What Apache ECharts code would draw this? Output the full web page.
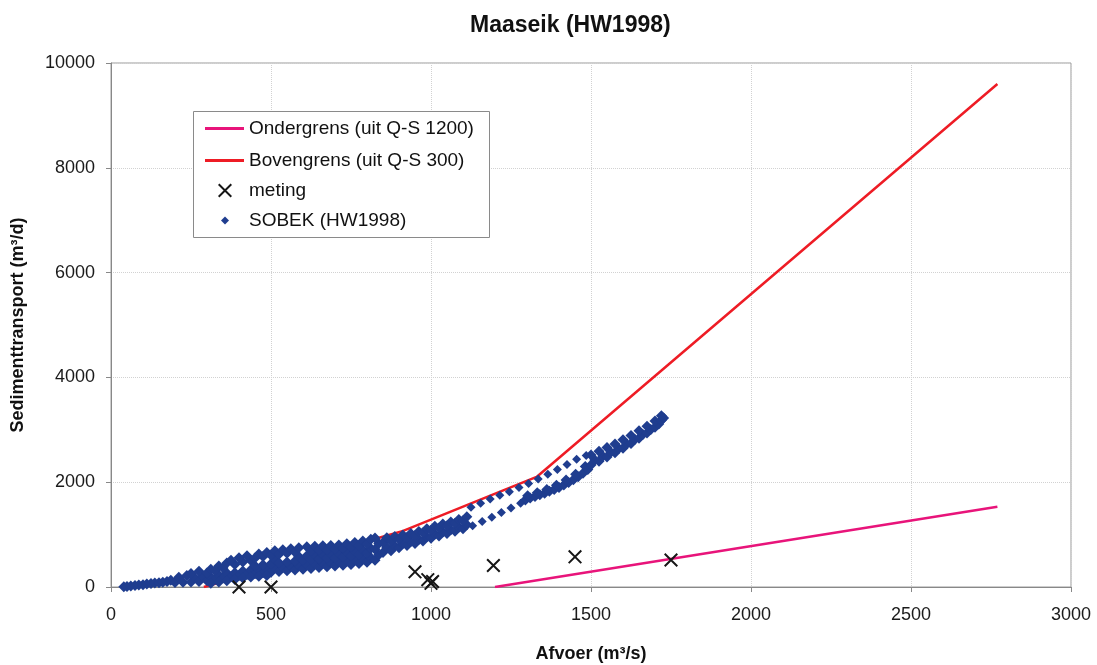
<!DOCTYPE html>
<html>
<head>
    <meta charset="utf-8"/>
    <script src="https://cdn.jsdelivr.net/npm/echarts@6/dist/echarts.min.js"></script>
    <style>
        html, body { margin: 0; padding: 0; background: #fff; }
        #container { width: 1097px; height: 665px; }
    </style>
</head>
<body>
<div id="container"></div>
<script type="text/javascript">
    // grenslijnen (afvoer m3/s, sedimenttransport m3/d)
    var ondergrensQ = [1200, 2770];
    var ondergrensS = [0, 1530];
    var bovengrensQ = [290, 913, 1330, 2770];
    var bovengrensS = [0, 1070, 2100, 9600];

    // metingen
    var metingQ = [400, 500, 950, 990, 1000, 1005, 1195, 1450, 1750];
    var metingS = [0, 0, 290, 140, 70, 105, 410, 575, 515];

    var sobekLaag = [
        [40, 5], [50, 10], [62, 18], [75, 28], [87, 36], [100, 45], [112, 56], [125, 68], [137, 76],
        [150, 80], [162, 92], [175, 105], [187, 130],
        [200, 85], [212, 185], [225, 90], [237, 220],
        [250, 95], [262, 178], [250, 260],
        [275, 107], [287, 203], [275, 300],
        [300, 120], [312, 193], [300, 267], [312, 340],
        [325, 145], [337, 230], [325, 315], [337, 400],
        [350, 170], [362, 267], [350, 363], [362, 460],
        [375, 195], [387, 274], [387, 431], [375, 510],
        [400, 220], [412, 305], [412, 475], [400, 560],
        [425, 238], [437, 327], [437, 506], [425, 595],
        [450, 255], [462, 330], [450, 405], [450, 555], [462, 630],
        [475, 270], [487, 348], [475, 426], [475, 582], [487, 660],
        [500, 280], [512, 362], [500, 444], [512, 526], [500, 608], [512, 690],
        [525, 295], [537, 378], [525, 461], [525, 627], [537, 710],
        [550, 310], [562, 394], [550, 478], [550, 646], [562, 730],
        [575, 325], [587, 410], [575, 495], [587, 580], [575, 665], [587, 750],
        [600, 340], [612, 426], [600, 512], [612, 598], [612, 770],
        [625, 355], [637, 440], [625, 524], [637, 609], [625, 693], [637, 778],
        [650, 370], [662, 453], [650, 536], [662, 619], [650, 702], [662, 785],
        [675, 385], [687, 466], [675, 548], [687, 629], [675, 711], [687, 792],
        [700, 400], [712, 480], [700, 560], [712, 640], [700, 720], [712, 800],
        [725, 415], [737, 497], [725, 579], [737, 661], [725, 743], [737, 825],
        [750, 430], [762, 514], [750, 598], [762, 682], [750, 766], [762, 850],
        [775, 450], [787, 536], [775, 622], [787, 708], [775, 794], [787, 880],
        [800, 470], [812, 558], [800, 646], [812, 734], [800, 822], [812, 910],
        [825, 510], [837, 616], [825, 722], [837, 829], [825, 935]
    ];
    var sobekLaagOnder = [
        [312, 70], [337, 95], [362, 120], [387, 145], [412, 170], [437, 190], [462, 205], [487, 220]
    ];
    var sobekMidden = [
        [850, 660], [862, 753], [850, 847], [862, 940],
        [875, 690], [887, 782], [875, 873], [887, 965],
        [900, 750], [912, 830], [900, 910], [912, 990],
        [925, 790], [937, 867], [925, 943], [937, 1020],
        [950, 830], [962, 907], [950, 983], [962, 1060],
        [975, 880], [987, 957], [975, 1033], [987, 1110],
        [1000, 930], [1012, 1007], [1000, 1083], [1012, 1160],
        [1025, 975], [1037, 1050], [1025, 1125], [1037, 1200],
        [1050, 1020], [1062, 1093], [1050, 1167], [1062, 1240],
        [1075, 1065], [1087, 1140], [1075, 1215], [1087, 1290],
        [1100, 1110], [1112, 1187], [1100, 1263], [1112, 1340]
    ];
    var sobekBovenTak = [
        [1125, 1520], [1155, 1600], [1185, 1680], [1215, 1750], [1245, 1820], [1275, 1900],
        [1305, 1975], [1335, 2060], [1365, 2150], [1395, 2240], [1425, 2340], [1455, 2440], [1485, 2510]
    ];
    var sobekOnderTakLos = [
        [1130, 1170], [1160, 1250], [1190, 1330], [1220, 1420], [1250, 1510], [1280, 1600]
    ];
    var sobekOnderTak = [
        [1295, 1660], [1310, 1700], [1325, 1725], [1340, 1760], [1355, 1790], [1370, 1825],
        [1385, 1860], [1400, 1900], [1415, 1945], [1430, 1995], [1445, 2045], [1460, 2105],
        [1475, 2170], [1490, 2240],
        [1302, 1740], [1332, 1800], [1362, 1860], [1392, 1940], [1422, 2040], [1452, 2150], [1482, 2300]
    ];
    var sobekTop = [
        [1500, 2330], [1512, 2425], [1500, 2520],
        [1525, 2400], [1537, 2495], [1525, 2590],
        [1550, 2480], [1562, 2570], [1550, 2660],
        [1575, 2560], [1587, 2645], [1575, 2730],
        [1600, 2650], [1612, 2730], [1600, 2810],
        [1625, 2740], [1637, 2815], [1625, 2890],
        [1650, 2840], [1662, 2910], [1650, 2980],
        [1675, 2940], [1687, 3005], [1675, 3070],
        [1700, 3050], [1712, 3110], [1700, 3170],
        [1720, 3180], [1727, 3225], [1720, 3270]
    ];

    function pairs(qs, ss) {
        var out = [];
        for (var i = 0; i < qs.length; i++) {
            out.push([qs[i], ss[i]]);
        }
        return out;
    }

    var sobekDicht = sobekLaag.concat(sobekLaagOnder, sobekMidden, sobekOnderTak, sobekTop);
    var sobekLos = sobekBovenTak.concat(sobekOnderTakLos);

    var font = 'Liberation Sans, Arial, sans-serif';
    var crossPath = 'path://M0,1L1,0L10,9L9,10Z M9,0L10,1L1,10L0,9Z';
    var legendText = {fontSize: 19, color: '#111', fontFamily: font};
    var sobekKleur = '#1f3d8f';

    var myChart = echarts.init(document.getElementById('container'));
    var option = {
        animation: false,
        backgroundColor: '#fff',
        textStyle: {fontFamily: font},
        title: {
            text: 'Maaseik (HW1998)',
            left: 465,
            top: 9,
            textStyle: {fontSize: 23, fontWeight: 'bold', color: '#111', fontFamily: font}
        },
        graphic: [{
            type: 'rect',
            z: 1,
            shape: {x: 193.5, y: 111.5, width: 296, height: 126},
            style: {fill: '#fff', stroke: '#8a8a8a', lineWidth: 1}
        }],
        legend: [
            {
                data: [
                    {name: 'Ondergrens (uit Q-S 1200)', icon: 'rect'},
                    {name: 'Bovengrens (uit Q-S 300)', icon: 'rect'}
                ],
                orient: 'vertical', left: 205, top: 119, padding: 0,
                itemWidth: 39, itemHeight: 3, itemGap: 13,
                textStyle: legendText
            },
            {
                data: ['meting'],
                left: 218, top: 181, padding: 0,
                itemWidth: 14, itemHeight: 14,
                textStyle: {fontSize: 19, color: '#111', fontFamily: font, padding: [0, 0, 0, 12]}
            },
            {
                data: [{name: 'SOBEK (HW1998)', icon: 'diamond'}],
                left: 221, top: 211, padding: 0,
                itemWidth: 8, itemHeight: 8,
                textStyle: {fontSize: 19, color: '#111', fontFamily: font, padding: [0, 0, 0, 15]}
            }
        ],
        grid: {
            left: 111, right: 26, top: 63, bottom: 78,
            containLabel: false, outerBoundsMode: 'none',
            show: true, borderColor: '#9a9a9a', borderWidth: 1
        },
        xAxis: {
            type: 'value', min: 0, max: 3000, interval: 500,
            name: 'Afvoer (m³/s)', nameLocation: 'middle', nameGap: 58,
            nameTextStyle: {fontSize: 18, fontWeight: 'bold', color: '#111', fontFamily: font},
            axisLine: {show: true, lineStyle: {color: '#888'}},
            axisTick: {show: true, length: 5, lineStyle: {color: '#888'}},
            axisLabel: {
                fontSize: 18, color: '#1a1a1a', margin: 19, fontFamily: font,
                formatter: function (v) { return String(v); }
            },
            splitLine: {show: true, lineStyle: {color: '#d2d2d2', type: 'dotted'}}
        },
        yAxis: {
            type: 'value', min: 0, max: 10000, interval: 2000,
            name: 'Sedimenttransport (m³/d)', nameLocation: 'middle', nameGap: 84, nameRotate: 90,
            nameTextStyle: {fontSize: 18, fontWeight: 'bold', color: '#111', fontFamily: font},
            axisLine: {show: true, lineStyle: {color: '#888'}},
            axisTick: {show: true, length: 5, lineStyle: {color: '#888'}},
            axisLabel: {
                fontSize: 18, color: '#1a1a1a', margin: 16, fontFamily: font,
                formatter: function (v) { return String(v); }
            },
            splitLine: {show: true, lineStyle: {color: '#d2d2d2', type: 'dotted'}}
        },
        series: [
            {
                name: 'Ondergrens (uit Q-S 1200)',
                type: 'line',
                data: pairs(ondergrensQ, ondergrensS),
                symbol: 'none',
                lineStyle: {color: '#e8147a', width: 2.5},
                itemStyle: {color: '#e8147a'},
                z: 2
            },
            {
                name: 'Bovengrens (uit Q-S 300)',
                type: 'line',
                data: pairs(bovengrensQ, bovengrensS),
                symbol: 'none',
                lineStyle: {color: '#ee1c25', width: 2.5},
                itemStyle: {color: '#ee1c25'},
                z: 2
            },
            {
                name: 'meting',
                type: 'scatter',
                data: pairs(metingQ, metingS),
                symbol: crossPath,
                symbolSize: 14,
                itemStyle: {color: '#161616', opacity: 1},
                z: 4
            },
            {
                name: 'SOBEK (HW1998)',
                type: 'scatter',
                data: sobekDicht,
                symbol: 'diamond',
                symbolSize: 11,
                itemStyle: {color: sobekKleur, opacity: 1},
                z: 3
            },
            {
                name: 'SOBEK (HW1998)',
                type: 'scatter',
                data: sobekLos,
                symbol: 'diamond',
                symbolSize: 9,
                itemStyle: {color: sobekKleur, opacity: 1},
                z: 3
            }
        ]
    };

    if (option && typeof option === "object") {
        myChart.setOption(option, true);
    }
</script>
</body>
</html>
